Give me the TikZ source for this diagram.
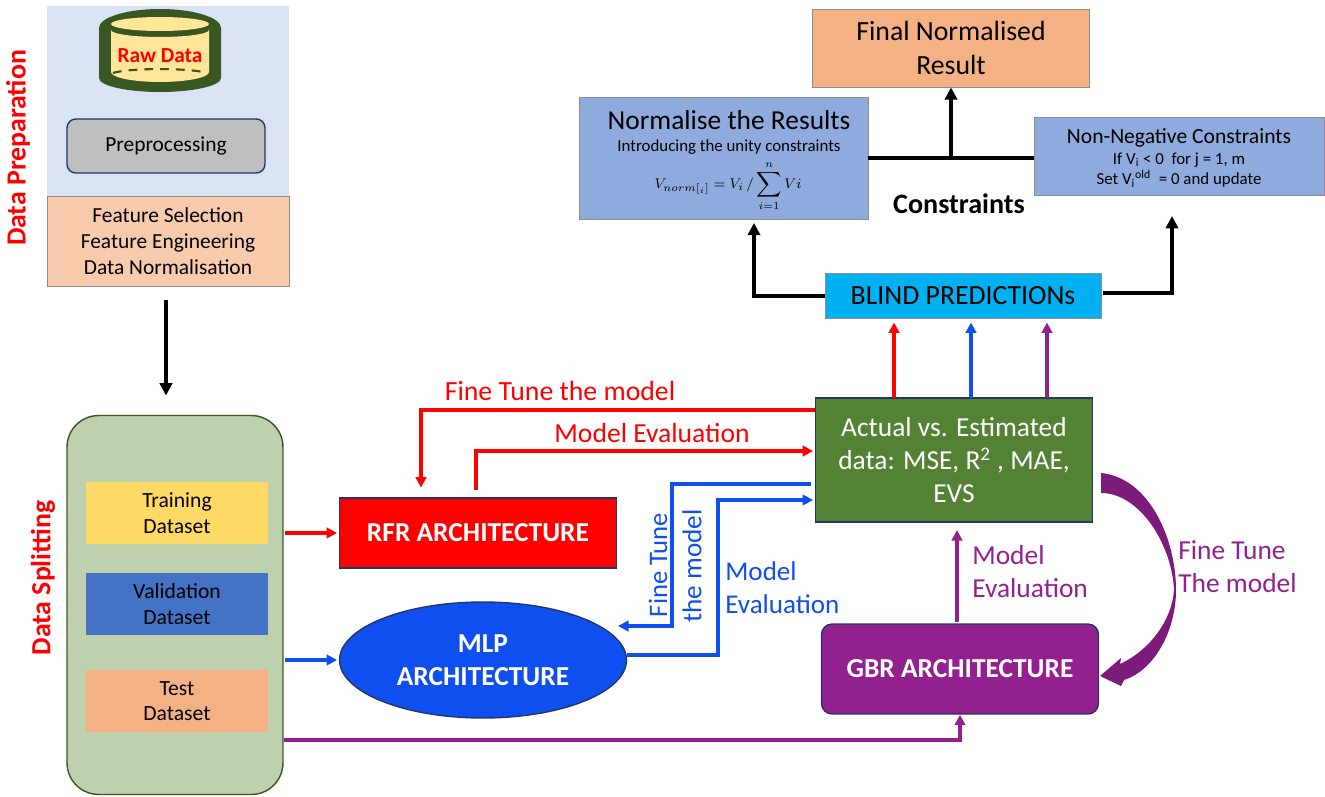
\documentclass[tikz,border=0pt]{standalone}
\usepackage{fontspec}
\setmainfont{Carlito}
\usetikzlibrary{arrows.meta,shapes.geometric}
\definecolor{panelblue}{HTML}{DAE3F3}
\definecolor{peach}{HTML}{F8CBAD}
\definecolor{drumgreen}{HTML}{385723}
\definecolor{drumyellow}{HTML}{FFE699}
\definecolor{sage}{HTML}{BFD0AE}
\definecolor{orangebox}{HTML}{F4B183}
\definecolor{slateblue}{HTML}{8FAADC}
\definecolor{skyblue}{HTML}{00B0F0}
\definecolor{leaf}{HTML}{548235}
\definecolor{plum}{HTML}{92208F}
\definecolor{mlpblue}{HTML}{0F4FF0}
\definecolor{trainyellow}{HTML}{FFD966}
\definecolor{validblue}{HTML}{4472C4}
\definecolor{navy}{HTML}{203864}
\tikzset{
  sized/.style 2 args={font=\fontsize{#1}{#2}\selectfont},
  box/.style={draw=black!45,line width=0.5pt,align=center,inner sep=0pt,text=black},
  lbl/.style={align=center,inner sep=0pt},
  archbox/.style={draw=navy,line width=0.8pt,align=center,inner sep=0pt,text=white,font=\fontsize{15.6}{18.8}\selectfont\bfseries},
  blackln/.style={black,line width=2pt,-{Triangle[length=7pt,width=7pt]}},
  redln/.style={red,line width=1.8pt,-{Triangle[length=6pt,width=6pt]}},
  blueln/.style={mlpblue,line width=1.8pt,-{Triangle[length=6pt,width=6pt]}},
  plumln/.style={plum,line width=1.8pt,-{Triangle[length=6pt,width=6pt]}},
}
\begin{document}
\begin{tikzpicture}[x=0.02cm,y=0.02cm]
\useasboundingbox (0,0) rectangle (1325,-797);
% data preparation
\node [box,draw=none,fill=panelblue,minimum width=4.84cm,minimum height=3.8cm] (panel) at (168,-101) {};
\node [box,fill=peach,minimum width=4.84cm,minimum height=1.8cm,sized={12.2}{14.6}] (feat) at (168,-241) {Feature Selection\\Feature Engineering\\Data Normalisation};
\fill [drumgreen] (99,-28) -- (99,-78) arc (180:360:61 and 14) -- (221,-28) arc (0:180:61 and 19);
\fill [drumyellow] (160,-24) ellipse (49 and 7);
\fill [drumyellow] (111,-30) arc (180:360:49 and 7) -- (209,-72) arc (360:180:49 and 10) -- cycle;
\draw [drumgreen,line width=1.2pt,dash pattern=on 5pt off 4pt] (113,-73) arc (160:20:50 and 6);
\node [lbl,text=red,font=\fontsize{12.2}{14}\selectfont\bfseries] (raw) at (160,-56) {Raw Data};
\node [box,draw=navy,line width=0.8pt,fill=black!25,rounded corners=5pt,minimum width=3.96cm,minimum height=1.08cm,sized={12.2}{14}] (prep) at (166,-146) {\raisebox{-1pt}{Preprocessing}};
\node [lbl,text=red,rotate=90,font=\fontsize{15.8}{18}\selectfont\bfseries] (dprep) at (18,-148) {Data Preparation};
% data splitting
\node [box,draw=drumgreen,line width=0.8pt,fill=sage,rounded corners=18pt,minimum width=4.32cm,minimum height=7.58cm] (split) at (175,-605) {};
\node [box,draw=none,fill=trainyellow,minimum width=3.64cm,minimum height=1.26cm,sized={12.3}{14.6}] (train) at (177,-513) {Training\\Dataset};
\node [box,draw=none,fill=validblue,minimum width=3.64cm,minimum height=1.26cm,sized={12.3}{14.6}] (valid) at (177,-604) {Validation\\Dataset};
\node [box,draw=none,fill=orangebox,minimum width=3.64cm,minimum height=1.26cm,sized={12.3}{14.6}] (test) at (177,-701) {Test\\Dataset};
\node [lbl,text=red,rotate=90,font=\fontsize{15.8}{18}\selectfont\bfseries] (dsplit) at (43,-578) {Data Splitting};
\coordinate (dn) at (166,-300);
\draw [blackln,shorten >=11pt] (dn) -- (dn |- split.north);
% models
\node [archbox,fill=red,minimum width=5.54cm,minimum height=1.4cm] (rfr) at (478,-533) {RFR ARCHITECTURE};
\node [archbox,ellipse,fill=mlpblue,minimum width=5.74cm,minimum height=2.32cm] (mlp) at (483,-660) {MLP\\ARCHITECTURE};
\node [archbox,fill=plum,rounded corners=6pt,minimum width=5.54cm,minimum height=1.8cm] (gbr) at (960,-669) {GBR ARCHITECTURE};
\node [box,draw=navy,line width=0.8pt,fill=leaf,minimum width=5.54cm,minimum height=2.48cm,text=white,sized={15.6}{19}] (act) at (954,-460) {Actual vs. Estimated\\data: MSE, R\textsuperscript{2} , MAE,\\EVS};
% outputs
\node [box,fill=skyblue,minimum width=5.52cm,minimum height=0.9cm,sized={15.8}{18}] (blind) at (963,-296) {BLIND PREDICTIONs};
\node [box,fill=orangebox,minimum width=5.54cm,minimum height=1.56cm,sized={15.8}{19}] (final) at (951,-48) {Final Normalised\\Result};
\node [box,fill=slateblue,minimum width=5.78cm,minimum height=2.44cm] (norm) at (723.5,-158) {};
\node [lbl,sized={15.6}{17}] (normt) at (729,-120) {Normalise the Results};
\node [lbl,sized={9.6}{10}] (normi) at (729,-147) {Introducing the unity constraints};
\node [lbl,font=\fontsize{8.4}{10}\selectfont] (normf) at (728,-186) {$V_{norm[_i]}=V_i\,/\displaystyle\sum_{i=1}^{n}Vi$};
\node [box,fill=slateblue,minimum width=5.8cm,minimum height=1.56cm] (nonneg) at (1179,-156) {};
\node [lbl,sized={9.6}{11.6}] (nonnegt) at (1179,-158) {{\fontsize{12.3}{14}\selectfont Non-Negative Constraints}\\If V\textsubscript{i} < 0~~for j = 1, m\\Set V\textsubscript{i}\textsuperscript{old}~~= 0 and update};
\node [lbl,font=\fontsize{16}{18}\selectfont\bfseries] (constr) at (959,-204) {Constraints};
% connector ends
\coordinate (jn) at (951,-158);
\coordinate (bl) at (754,-296);
\coordinate (br) at (1172,-293);
\coordinate (bre) at (1103,-293);
\coordinate (brt) at (1172,-216);
\draw [black,line width=2pt] (norm.east |- jn) -- (nonneg.west |- jn);
\draw [blackln,line width=2.4pt] (jn) -- (final.south);
\draw [blackln,shorten >=2pt] (blind.west |- bl) -- (bl) -- (bl |- norm.south);
\draw [blackln] (bre) -- (br) -- (brt);
\coordinate (ur) at (894,-398);
\coordinate (ub) at (971,-398);
\coordinate (up) at (1047,-398);
\draw [redln,shorten >=2pt] (ur) -- (ur |- blind.south);
\draw [blueln,shorten >=2pt] (ub) -- (ub |- blind.south);
\draw [plumln,shorten >=2pt] (up) -- (up |- blind.south);
\coordinate (rft) at (421,-410);
\coordinate (rme) at (476,-451);
\draw [redln,shorten >=5.5pt] (act.west |- rft) -- (rft) -- (rft |- rfr.north);
\draw [redln,shorten >=1pt,shorten <=4pt] (rme |- rfr.north) -- (rme) -- (act.west |- rme);
\coordinate (bft) at (672,-484);
\coordinate (bfb) at (672,-626);
\coordinate (bfe) at (618,-626);
\coordinate (bme) at (718,-500);
\coordinate (bmb) at (718,-655);
\draw [blueln,shorten <=2pt] (act.west |- bft) -- (bft) -- (bfb) -- (bfe);
\draw [blueln,shorten >=1pt] (mlp.east |- bmb) -- (bmb) -- (bme) -- (act.west |- bme);
\coordinate (pme) at (957,-530);
\draw [plumln,shorten <=1pt] (pme |- gbr.north) -- (pme);
\coordinate (pd) at (960,-740);
\draw [plumln] (split.east |- pd) -- (pd) -- (pd |- gbr.south);
\draw [redln,shorten <=1pt,shorten >=1pt] (split.east |- rfr) -- (rfr.west);
\draw [blueln,shorten <=1pt,shorten >=1pt] (split.east |- mlp) -- (mlp.west);
\fill [plum!85!black] (1101,-473) .. controls (1150,-478) and (1176,-540) .. (1176,-590) .. controls (1176,-630) and (1155,-670) .. (1124,-680) -- (1121,-686) -- (1100,-676) -- (1121,-658) -- (1120,-664) .. controls (1150,-650) and (1172,-620) .. (1174,-590) .. controls (1172,-545) and (1140,-493) .. (1101,-493) -- cycle;
% connector labels
\node [lbl,text=red,sized={15.8}{18}] (lft) at (560,-391) {Fine Tune the model};
\node [lbl,text=red,sized={15.7}{18}] (lme) at (652,-433) {Model Evaluation};
\node [lbl,text=mlpblue,rotate=90,sized={15.2}{18}] (lbf) at (658,-565) {Fine Tune};
\node [lbl,text=mlpblue,rotate=90,sized={15.5}{18}] (lbm) at (692,-566) {the model};
\node [lbl,text=mlpblue,align=left,anchor=west,sized={15.4}{18.8}] (lbe) at (725,-588) {Model\\Evaluation};
\node [lbl,text=plum,align=left,anchor=west,sized={15.6}{18.8}] (lpe) at (972,-572) {Model\\Evaluation};
\node [lbl,text=plum,align=left,anchor=west,sized={15.6}{18.8}] (lpf) at (1178,-567) {Fine Tune\\The model};
\end{tikzpicture}
\end{document}
